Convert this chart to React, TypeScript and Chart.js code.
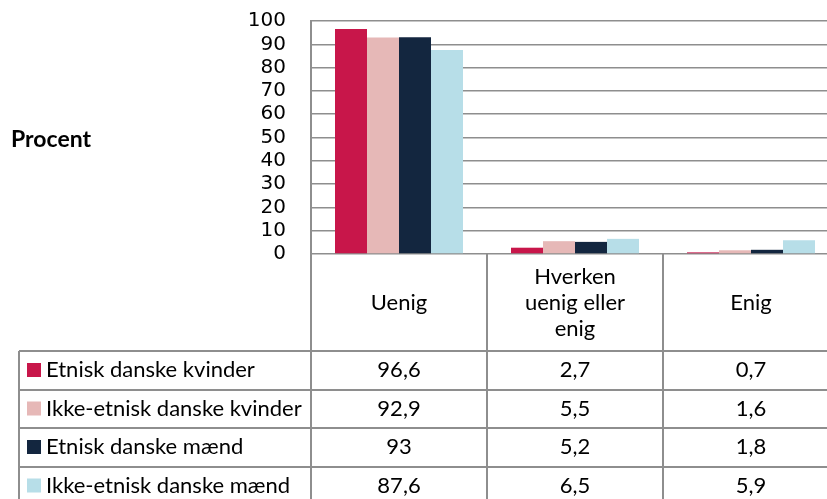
import React, { useEffect, useRef } from 'react';
import { Chart, registerables } from 'chart.js';

Chart.register(...registerables);

const categories: string[][] = [['Uenig'], ['Hverken', 'uenig eller', 'enig'], ['Enig']];
const seriesNames = [
  'Etnisk danske kvinder',
  'Ikke-etnisk danske kvinder',
  'Etnisk danske mænd',
  'Ikke-etnisk danske mænd',
];
const etniskKvinder = [96.6, 2.7, 0.7];
const ikkeEtniskKvinder = [92.9, 5.5, 1.6];
const etniskMaend = [93, 5.2, 1.8];
const ikkeEtniskMaend = [87.6, 6.5, 5.9];
const seriesColors = ['#C8164A', '#E6B8B7', '#13263F', '#B7DEE8'];
const yAxisTitle = 'Procent';

const fmt = (v: number) => String(v).replace('.', ',');

const TABLE_FONT = '22px Lato, "Open Sans", sans-serif';
const LINE = '#8e8e8e';

const tablePlugin = {
  id: 'dataTable',
  afterDraw(chart: any) {
    const ctx: CanvasRenderingContext2D = chart.ctx;
    const area = chart.chartArea;
    const all = [etniskKvinder, ikkeEtniskKvinder, etniskMaend, ikkeEtniskMaend];
    const n = categories.length;
    const catW = (area.right - area.left) / n;
    const headerTop = area.bottom;
    const headerBottom = 351;
    const rowH = 38.5;
    const tableLeft = 19;
    const W = chart.width;
    const H = chart.height;
    ctx.save();
    ctx.strokeStyle = LINE;
    ctx.lineWidth = 2;
    ctx.beginPath();
    for (let i = 0; i <= n; i++) {
      const x = Math.round(area.left + i * catW);
      ctx.moveTo(x, headerTop);
      ctx.lineTo(x, H);
    }
    ctx.moveTo(tableLeft, headerBottom);
    ctx.lineTo(tableLeft, H);
    for (let r = 0; r <= all.length; r++) {
      const y = Math.round(headerBottom + r * rowH);
      ctx.moveTo(tableLeft, y);
      ctx.lineTo(W, y);
    }
    ctx.stroke();

    ctx.fillStyle = '#000';
    ctx.font = TABLE_FONT;
    ctx.textAlign = 'center';
    ctx.textBaseline = 'alphabetic';
    categories.forEach((lines, i) => {
      const cx = area.left + (i + 0.5) * catW;
      lines.forEach((t, j) => {
        const y = 310 + (j - (lines.length - 1) / 2) * 26;
        ctx.fillText(t, cx, y);
      });
    });

    all.forEach((vals, r) => {
      const base = headerBottom + r * rowH + 26;
      ctx.fillStyle = seriesColors[r];
      ctx.fillRect(27, headerBottom + r * rowH + 12, 14, 14);
      ctx.fillStyle = '#000';
      ctx.textAlign = 'left';
      ctx.fillText(seriesNames[r], 46, base);
      ctx.textAlign = 'center';
      vals.forEach((v, i) => {
        const cx = area.left + (i + 0.5) * catW;
        ctx.fillText(fmt(v), cx, base);
      });
    });

    ctx.font = 'bold 23px Lato, "Open Sans", sans-serif';
    ctx.textAlign = 'left';
    ctx.fillText(yAxisTitle, 11, 147);
    ctx.restore();
  },
};

export default function App() {
  const ref = useRef<HTMLCanvasElement | null>(null);
  useEffect(() => {
    if (!ref.current) return;
    const chart = new Chart(ref.current, {
      type: 'bar',
      data: {
        labels: categories.map((c) => c.join(' ')),
        datasets: [etniskKvinder, ikkeEtniskKvinder, etniskMaend, ikkeEtniskMaend].map((d, i) => ({
          label: seriesNames[i],
          data: d,
          backgroundColor: seriesColors[i],
          borderWidth: 0,
          barPercentage: 1,
          categoryPercentage: 128 / 176,
        })),
      },
      options: {
        responsive: false,
        animation: false,
        devicePixelRatio: 1,
        layout: { padding: { top: 21, right: 11, bottom: 245, left: 0 } },
        plugins: { legend: { display: false }, tooltip: { enabled: false } },
        scales: {
          x: { type: 'category', display: false },
          y: {
            min: 0,
            max: 100,
            ticks: {
              stepSize: 10,
              autoSkip: false,
              padding: 25,
              color: '#000',
              font: { family: '"DejaVu Sans", sans-serif', size: 20, lineHeight: 1 },
            },
            grid: { color: LINE, lineWidth: 1.5, drawTicks: false },
            border: { display: true, color: LINE, width: 2 },
            afterFit: (scale: any) => {
              scale.width = 311;
              scale.paddingTop = 10;
              scale.paddingBottom = 10;
            },
          },
        },
      },
      plugins: [tablePlugin],
    });
    return () => chart.destroy();
  }, []);
  return (
    <div style={{ position: 'fixed', left: 0, top: 0, width: 827, height: 499, overflow: 'hidden', background: '#fff' }}>
      <canvas ref={ref} width={850} height={499} style={{ width: 850, height: 499, display: 'block' }} />
    </div>
  );
}
